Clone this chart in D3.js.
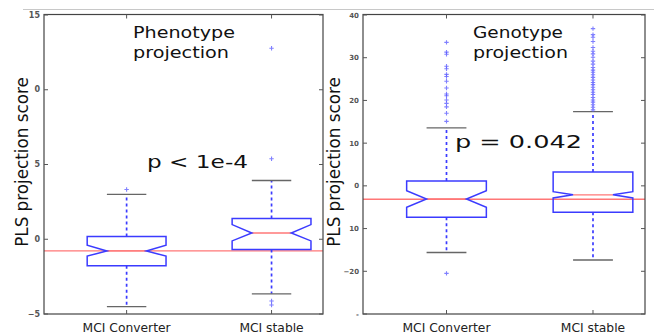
<!DOCTYPE html>
<html><head><meta charset="utf-8">
<script src="https://cdn.jsdelivr.net/npm/d3@7/dist/d3.min.js"></script>
<style>html,body{margin:0;padding:0;background:#fff;}svg{display:block;}</style>
</head><body>
<svg id="c" width="654" height="333"></svg>
<script>
// ---------- data ----------
const categories = ["MCI Converter", "MCI stable"];

// Phenotype projection
const phenoWhiskerLow  = [-4.5, -3.65];
const phenoQ1          = [-1.78, -0.69];
const phenoMedian      = [-0.78, 0.42];
const phenoQ3          = [0.18, 1.38];
const phenoWhiskerHigh = [3.0, 3.93];
const phenoNotchLow    = [-1.13, -0.11];
const phenoNotchHigh   = [-0.40, 0.98];
const phenoFliers      = [[3.33], [12.78, 5.38, -4.13, -4.4]];
const phenoRef         = -0.78;
const phenoTickValues  = [-5, 0, 5, 10, 15];
const phenoTickLabels  = ["\u22125", "0", "5", "0", "15"];

// Genotype projection
const genoWhiskerLow  = [-15.6, -17.36];
const genoQ1          = [-7.37, -6.2];
const genoMedian      = [-3.07, -2.1];
const genoQ3          = [1.15, 3.25];
const genoWhiskerHigh = [13.56, 17.37];
const genoNotchLow    = [-5.03, -2.83];
const genoNotchHigh   = [-1.12, -1.36];
const genoFliers      = [
  [33.6, 31.3, 30.8, 28.0, 27.4, 26.1, 25.6, 24.5, 22.9, 21.5, 21.1, 20.1, 19.3, 18.5, 17.0, 15.1, -20.5],
  [36.8, 35.4, 34.8, 33.8, 32.4, 31.5, 30.9, 30.1, 29.2, 28.5, 27.7, 27.1, 26.6, 26.0, 25.4, 24.8, 24.2,
   23.7, 23.1, 22.5, 21.9, 21.4, 20.7, 20.1, 19.6, 19.0, 18.4, 17.8]
];
const genoRef         = -3.15;
const genoTickValues  = [-30, -20, -10, 0, 10, 20, 30, 40];
const genoTickLabels  = ["-", "\u221220", "10", "0", "10", "20", "30", "40"];

// ---------- drawing ----------
const svg = d3.select("#c");
const FONT = "DejaVu Sans, sans-serif";
const BLUE = "#3b3bff";

// thin gray line at the top (image border)
svg.append("line").attr("x1", 23).attr("x2", 654).attr("y1", 9.5).attr("y2", 9.5)
  .attr("stroke", "#c8c8c8").attr("stroke-width", 1);

function panel(opts) {
  const g = svg.append("g");
  const x = d3.scaleLinear().domain([0.43, 2.355]).range([opts.left, opts.right]);
  const y = d3.scaleLinear().domain(opts.yDomain).range([314, 15]);
  const positions = categories.map((c, i) => i + 1);
  const hw = 0.272; // box half-width (data units)

  // reference line
  g.append("line").attr("x1", x.range()[0]).attr("x2", x.range()[1])
    .attr("y1", y(opts.ref)).attr("y2", y(opts.ref))
    .attr("stroke", "#ff7777").attr("stroke-width", 1.4);

  positions.forEach((p, i) => {
    const xl = x(p - hw), xr = x(p + hw), xc = x(p);
    const xil = x(p - hw / 2), xir = x(p + hw / 2);
    // whiskers
    g.append("line").attr("x1", xc).attr("x2", xc).attr("y1", y(opts.q3[i])).attr("y2", y(opts.wHigh[i]))
      .attr("stroke", BLUE).attr("stroke-width", 1.7).attr("stroke-dasharray", "3,3");
    g.append("line").attr("x1", xc).attr("x2", xc).attr("y1", y(opts.q1[i])).attr("y2", y(opts.wLow[i]))
      .attr("stroke", BLUE).attr("stroke-width", 1.7).attr("stroke-dasharray", "3,3");
    // caps
    [opts.wHigh[i], opts.wLow[i]].forEach(v => {
      g.append("line").attr("x1", xil).attr("x2", xir).attr("y1", y(v)).attr("y2", y(v))
        .attr("stroke", "#666").attr("stroke-width", 1.3);
    });
    // median
    g.append("line").attr("x1", xil).attr("x2", xir).attr("y1", y(opts.med[i])).attr("y2", y(opts.med[i]))
      .attr("stroke", "#ff7777").attr("stroke-width", 1.4);
    // notched box
    const pts = [
      [xl, y(opts.q1[i])], [xl, y(opts.nLow[i])], [xil, y(opts.med[i])], [xl, y(opts.nHigh[i])],
      [xl, y(opts.q3[i])], [xr, y(opts.q3[i])], [xr, y(opts.nHigh[i])], [xir, y(opts.med[i])],
      [xr, y(opts.nLow[i])], [xr, y(opts.q1[i])]
    ];
    g.append("path").attr("d", d3.line()(pts) + "Z")
      .attr("fill", "none").attr("stroke", BLUE).attr("stroke-width", 1.5);
    // fliers
    opts.fliers[i].forEach(v => {
      g.append("path").attr("transform", `translate(${xc},${y(v)})`)
        .attr("d", "M-2.2,0H2.2M0,-2.2V2.2")
        .attr("stroke", "#5555ff").attr("stroke-opacity", 0.75).attr("stroke-width", 1.1);
    });
  });

  // frame
  g.append("rect").attr("x", x.range()[0]).attr("y", 14.5)
    .attr("width", x.range()[1] - x.range()[0]).attr("height", 299.5)
    .attr("fill", "none").attr("stroke", "#444").attr("stroke-width", 1.2);

  // ticks (inside, all four sides)
  const tl = 4;
  opts.tickValues.forEach((v, k) => {
    g.append("line").attr("x1", x.range()[0]).attr("x2", x.range()[0] + tl).attr("y1", y(v)).attr("y2", y(v))
      .attr("stroke", "#555").attr("stroke-width", 1);
    g.append("line").attr("x1", x.range()[1]).attr("x2", x.range()[1] - tl).attr("y1", y(v)).attr("y2", y(v))
      .attr("stroke", "#555").attr("stroke-width", 1);
    g.append("text").attr("x", x.range()[0] - 4).attr("y", y(v) + 2.5)
      .attr("text-anchor", "end").attr("font-family", FONT).attr("font-weight", "bold")
      .attr("font-size", opts.tickFont).attr("fill", "#555").text(opts.tickLabels[k]);
  });
  positions.forEach((p, i) => {
    g.append("line").attr("x1", x(p)).attr("x2", x(p)).attr("y1", 314).attr("y2", 314 - tl)
      .attr("stroke", "#555").attr("stroke-width", 1);
    g.append("line").attr("x1", x(p)).attr("x2", x(p)).attr("y1", 14.5).attr("y2", 14.5 + tl)
      .attr("stroke", "#555").attr("stroke-width", 1);
    g.append("text").attr("x", x(p)).attr("y", 331.5).attr("text-anchor", "middle")
      .attr("font-family", FONT).attr("font-size", 12.3).attr("fill", "#222").text(categories[i]);
  });

  // y label
  g.append("text").attr("transform", `translate(${opts.ylabelX},162) rotate(-90)`)
    .attr("text-anchor", "middle").attr("font-family", FONT).attr("font-size", 16.8)
    .attr("fill", "#111").text("PLS projection score");

  // title (two lines)
  opts.title.forEach((t, k) => {
    g.append("text").attr("x", opts.titleX).attr("y", opts.titleY[k])
      .attr("font-family", FONT).attr("font-size", 16.5).attr("fill", "#111")
      .attr("textLength", opts.titleLen[k]).attr("lengthAdjust", "spacingAndGlyphs").text(t);
  });
  // p-value
  g.append("text").attr("x", opts.pX).attr("y", opts.pY).attr("font-family", FONT)
    .attr("font-size", 17).attr("fill", "#111")
    .attr("textLength", opts.pLen).attr("lengthAdjust", "spacingAndGlyphs").text(opts.pText);
}

panel({
  left: 44, right: 323, yDomain: [-5, 15],
  wLow: phenoWhiskerLow, q1: phenoQ1, med: phenoMedian, q3: phenoQ3, wHigh: phenoWhiskerHigh,
  nLow: phenoNotchLow, nHigh: phenoNotchHigh, fliers: phenoFliers, ref: phenoRef,
  tickValues: phenoTickValues, tickLabels: phenoTickLabels, tickFont: 8,
  ylabelX: 28, title: ["Phenotype", "projection"], titleX: 133, titleY: [38, 58], titleLen: [102, 96],
  pText: "p < 1e-4", pX: 147, pY: 168, pLen: 101
});
panel({
  left: 363, right: 645, yDomain: [-30, 40],
  wLow: genoWhiskerLow, q1: genoQ1, med: genoMedian, q3: genoQ3, wHigh: genoWhiskerHigh,
  nLow: genoNotchLow, nHigh: genoNotchHigh, fliers: genoFliers, ref: genoRef,
  tickValues: genoTickValues, tickLabels: genoTickLabels, tickFont: 7,
  ylabelX: 340, title: ["Genotype", "projection"], titleX: 473, titleY: [38, 58], titleLen: [90, 95],
  pText: "p = 0.042", pX: 455, pY: 148, pLen: 127
});
</script>
</body></html>
